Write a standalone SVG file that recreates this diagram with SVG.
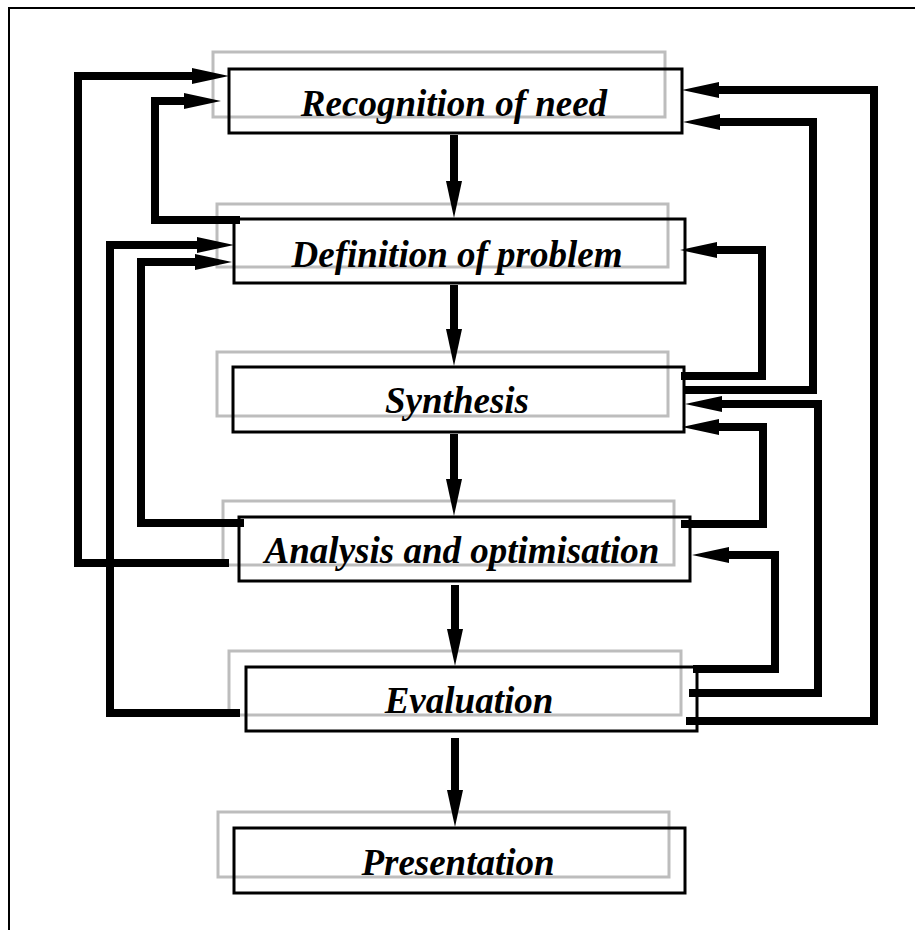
<svg xmlns="http://www.w3.org/2000/svg" width="915" height="930" viewBox="0 0 915 930">
<style>
.shadow{fill:none;stroke:#bdbdbd;stroke-width:3}
.box{fill:none;stroke:#000;stroke-width:3}
.lbl{font-family:"Liberation Serif","Times New Roman",serif;font-weight:bold;font-style:italic;font-size:37px;text-anchor:middle;fill:#000}
.conn{fill:none;stroke:#000;stroke-width:8;stroke-linejoin:miter;stroke-linecap:square}
.down{stroke-linecap:butt}
</style>
<defs>
<marker id="ah" markerUnits="userSpaceOnUse" markerWidth="40" markerHeight="20" viewBox="0 -10 40 20" refX="0" refY="0" orient="auto">
<path d="M0,-8 L37,0 L0,8 Z" fill="#000"/>
</marker>
</defs>
<rect x="9" y="8" width="1000" height="1000" fill="#fff" stroke="#000" stroke-width="2"/>
<g id="n1">
<rect class="shadow" x="213" y="52" width="452" height="65"/>
<rect class="box" x="229" y="69" width="453" height="64"/>
<text class="lbl" x="454" y="116">Recognition of need</text>
</g>
<g id="n2">
<rect class="shadow" x="217" y="204" width="451" height="63"/>
<rect class="box" x="234" y="219" width="451" height="64"/>
<text class="lbl" x="457" y="267">Definition of problem</text>
</g>
<g id="n3">
<rect class="shadow" x="217" y="352" width="451" height="64"/>
<rect class="box" x="233" y="367" width="451" height="65"/>
<text class="lbl" x="457" y="413">Synthesis</text>
</g>
<g id="n4">
<rect class="shadow" x="223" y="501" width="451" height="64"/>
<rect class="box" x="239" y="517" width="451" height="64"/>
<text class="lbl" x="462" y="563">Analysis and optimisation</text>
</g>
<g id="n5">
<rect class="shadow" x="229" y="651" width="452" height="64"/>
<rect class="box" x="246" y="667" width="451" height="64"/>
<text class="lbl" x="469" y="713">Evaluation</text>
</g>
<g id="n6">
<rect class="shadow" x="218" y="812" width="451" height="65"/>
<rect class="box" x="234" y="828" width="451" height="65"/>
<text class="lbl" x="458" y="875">Presentation</text>
</g>
<g id="connectors">
<path class="conn down" d="M454 135 V181" marker-end="url(#ah)"/>
<path class="conn down" d="M454 285 V329" marker-end="url(#ah)"/>
<path class="conn down" d="M454 434 V479" marker-end="url(#ah)"/>
<path class="conn down" d="M455 585 V629" marker-end="url(#ah)"/>
<path class="conn down" d="M455 738 V790" marker-end="url(#ah)"/>
<path class="conn" d="M225 563 H78 V76 H192" marker-end="url(#ah)"/>
<path class="conn" d="M236 220 H155 V101 H184" marker-end="url(#ah)"/>
<path class="conn" d="M236 713 H110 V245 H197" marker-end="url(#ah)"/>
<path class="conn" d="M240 523 H141 V262 H195" marker-end="url(#ah)"/>
<path class="conn" d="M690 721 H874 V90 H719" marker-end="url(#ah)"/>
<path class="conn" d="M687 390 H813 V122 H720" marker-end="url(#ah)"/>
<path class="conn" d="M685 376 H762 V250 H717" marker-end="url(#ah)"/>
<path class="conn" d="M693 693 H818 V404 H722" marker-end="url(#ah)"/>
<path class="conn" d="M685 524 H763 V427 H719" marker-end="url(#ah)"/>
<path class="conn" d="M697 669 H775 V555 H729" marker-end="url(#ah)"/>
</g>
</svg>
